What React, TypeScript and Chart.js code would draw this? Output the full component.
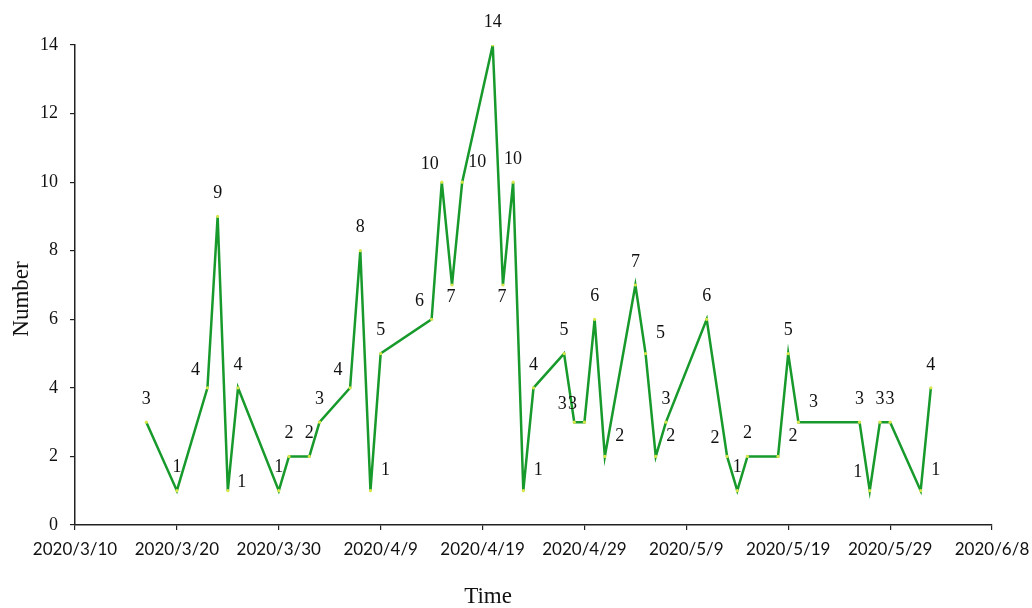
import React, { useEffect, useRef } from "react";
import { Chart, registerables } from "chart.js";

Chart.register(...registerables);

const dates = [
  "2020/3/17", "2020/3/20", "2020/3/23", "2020/3/24", "2020/3/25", "2020/3/26",
  "2020/3/30", "2020/3/31", "2020/4/2", "2020/4/3", "2020/4/6", "2020/4/7",
  "2020/4/8", "2020/4/9", "2020/4/14", "2020/4/15", "2020/4/16", "2020/4/17",
  "2020/4/20", "2020/4/21", "2020/4/22", "2020/4/23", "2020/4/24", "2020/4/27",
  "2020/4/28", "2020/4/29", "2020/4/30", "2020/5/1", "2020/5/4", "2020/5/5",
  "2020/5/6", "2020/5/7", "2020/5/11", "2020/5/13", "2020/5/14", "2020/5/15",
  "2020/5/18", "2020/5/19", "2020/5/20", "2020/5/26", "2020/5/27", "2020/5/28",
  "2020/5/29", "2020/6/1", "2020/6/2",
];

const values = [
  3, 1, 4, 9, 1, 4,
  1, 2, 2, 3, 4, 8,
  1, 5, 6, 10, 7, 10,
  14, 7, 10, 1, 4, 5,
  3, 3, 6, 2, 7, 5,
  2, 3, 6, 2, 1, 2,
  2, 5, 3, 3, 1, 3,
  3, 1, 4,
];

// where each value label sits relative to its point
const labelPlacement = [
  "a", "a", "al", "a", "r", "a",
  "a", "a", "a", "a", "al", "a",
  "ar", "a", "al", "al", "b", "ar",
  "a", "b", "a", "ar", "a", "a",
  "al", "al", "a", "ar", "a", "ar",
  "ar", "a", "a", "al", "a", "a",
  "ar", "a", "ar", "a", "al", "a",
  "a", "ar", "a",
];

const xTickLabels = [
  "2020/3/10", "2020/3/20", "2020/3/30", "2020/4/9", "2020/4/19",
  "2020/4/29", "2020/5/9", "2020/5/19", "2020/5/29", "2020/6/8",
];

const yTickValues = [0, 2, 4, 6, 8, 10, 12, 14];

const xTitle = "Time";
const yTitle = "Number";

const START = Date.UTC(2020, 2, 10);
const dayOf = (s: string) => {
  const [y, m, d] = s.split("/").map(Number);
  return (Date.UTC(y, m - 1, d) - START) / 86400000;
};

const OFFSETS: Record<string, [number, number]> = {
  a: [0, -23],
  b: [-1, 12],
  r: [14, -8],
  ar: [15, -20],
  al: [-12, -18],
};

const SERIF = "'Liberation Serif', 'Times New Roman', serif";

const labelPlugin = {
  id: "valueLabels",
  afterDatasetsDraw(chart: any) {
    const ctx = chart.ctx;
    const meta = chart.getDatasetMeta(0);
    ctx.save();
    ctx.font = `18px ${SERIF}`;
    ctx.fillStyle = "#111";
    ctx.textAlign = "center";
    ctx.textBaseline = "middle";
    meta.data.forEach((pt: any, i: number) => {
      const [dx, dy] = OFFSETS[labelPlacement[i]] || OFFSETS.a;
      ctx.fillText(String(values[i]), pt.x + dx, pt.y + dy);
    });
    ctx.restore();
  },
};

const titlePlugin = {
  id: "axisTitles",
  afterDraw(chart: any) {
    const ctx = chart.ctx;
    ctx.save();
    ctx.font = `23px ${SERIF}`;
    ctx.fillStyle = "#111";
    ctx.textAlign = "center";
    ctx.textBaseline = "middle";
    ctx.fillText(xTitle, 488, 597);
    ctx.translate(22, 299);
    ctx.rotate(-Math.PI / 2);
    ctx.fillText(yTitle, 0, 0);
    ctx.restore();
  },
};

export default function App() {
  const ref = useRef<HTMLCanvasElement>(null);

  useEffect(() => {
    if (!ref.current) return;
    const chart = new Chart(ref.current, {
      type: "line",
      data: {
        datasets: [
          {
            data: dates.map((d, i) => ({ x: dayOf(d), y: values[i] })),
            borderColor: "#179a2b",
            borderWidth: 2.5,
            pointRadius: 1.6,
            pointBackgroundColor: "#d8e84a",
            pointBorderWidth: 0,
            tension: 0,
            fill: false,
          },
        ],
      },
      options: {
        animation: false,
        responsive: true,
        maintainAspectRatio: false,
        layout: { padding: { top: 45, right: 40, left: 0, bottom: 0 } },
        plugins: {
          legend: { display: false },
          tooltip: { enabled: false },
        },
        scales: {
          x: {
            type: "linear",
            min: 0,
            max: 90,
            afterFit: (s: any) => {
              s.height = 83;
              s.paddingLeft = 0;
              s.paddingRight = 0;
            },
            afterBuildTicks: (s: any) => {
              s.ticks = xTickLabels.map((_, i) => ({ value: i * 10 }));
            },
            ticks: {
              maxRotation: 0,
              autoSkip: false,
              padding: 9,
              color: "#111",
              font: { family: "Lato, 'Open Sans', sans-serif", size: 17 },
              callback: (v: any) => xTickLabels[Math.round(Number(v) / 10)] ?? "",
            },
            grid: {
              display: true,
              drawOnChartArea: false,
              drawTicks: true,
              tickLength: 5,
              color: "#222",
              lineWidth: 1.2,
            },
            border: { display: true, color: "#222", width: 1.5 },
          },
          y: {
            type: "linear",
            min: 0,
            max: 14,
            afterFit: (s: any) => {
              s.width = 75;
              s.paddingTop = 0;
              s.paddingBottom = 0;
            },
            afterBuildTicks: (s: any) => {
              s.ticks = yTickValues.map((v) => ({ value: v }));
            },
            ticks: {
              padding: 12,
              color: "#111",
              font: { family: SERIF, size: 18 },
            },
            grid: {
              display: true,
              drawOnChartArea: false,
              drawTicks: true,
              tickLength: 5,
              color: "#222",
              lineWidth: 1.2,
            },
            border: { display: true, color: "#222", width: 1.5 },
          },
        },
      },
      plugins: [labelPlugin, titlePlugin],
    });
    return () => chart.destroy();
  }, []);

  return (
    <div
      style={{
        position: "absolute",
        left: 0,
        top: 0,
        width: 1032,
        height: 608,
        background: "#fff",
      }}
    >
      <canvas ref={ref} />
    </div>
  );
}
